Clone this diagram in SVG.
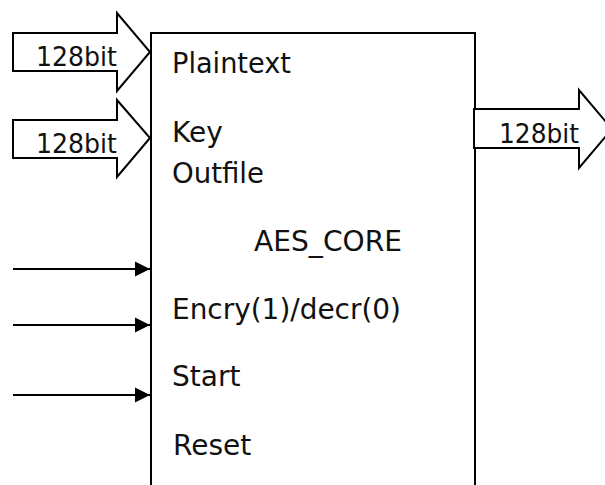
<svg xmlns="http://www.w3.org/2000/svg" width="605" height="485" viewBox="0 0 605 485">
<style>
.t{font-family:"DejaVu Sans","Liberation Sans",sans-serif;font-size:28px;fill:#111}
.s{font-family:"DejaVu Sans","Liberation Sans",sans-serif;font-size:27px;fill:#111}
.blk{fill:#fff;stroke:#000;stroke-width:2;stroke-linejoin:miter}
.ln{stroke:#000;stroke-width:2;fill:none}
</style>
<defs>
<marker id="ah" markerUnits="userSpaceOnUse" markerWidth="16" markerHeight="16" refX="15" refY="8" orient="auto">
<path d="M0,0.5 L15,8 L0,15.5 Z" fill="#000"/>
</marker>
</defs>
<rect width="605" height="485" fill="#fff"/>
<g id="core">
<path class="ln" d="M151,490 L151,33 L475,33 L475,490"/>
<text class="t" x="172" y="73" textLength="119" lengthAdjust="spacingAndGlyphs">Plaintext</text>
<text class="t" x="172" y="142">Key</text>
<text class="t" x="172" y="183" textLength="92" lengthAdjust="spacingAndGlyphs">Outfile</text>
<text class="t" x="254" y="251" textLength="148" lengthAdjust="spacingAndGlyphs">AES_CORE</text>
<text class="t" x="172" y="319" textLength="229" lengthAdjust="spacingAndGlyphs">Encry(1)/decr(0)</text>
<text class="t" x="172" y="386">Start</text>
<text class="t" x="173" y="455">Reset</text>
</g>
<g id="in-plaintext">
<polygon class="blk" points="13,33 117,33 117,13 150,52 117,91 117,71 13,71"/>
<text class="s" x="36" y="66" textLength="81" lengthAdjust="spacingAndGlyphs">128bit</text>
</g>
<g id="in-key">
<polygon class="blk" points="13,120 117,120 117,100 150,138 117,177 117,158 13,158"/>
<text class="s" x="36" y="153" textLength="81" lengthAdjust="spacingAndGlyphs">128bit</text>
</g>
<g id="out">
<polygon class="blk" points="474,109 579,109 579,90 612,129 579,168 579,148 474,148"/>
<text class="s" x="499" y="143" textLength="80" lengthAdjust="spacingAndGlyphs">128bit</text>
</g>
<g id="connectors">
<line class="ln" x1="13" y1="269" x2="150" y2="269" marker-end="url(#ah)"/>
<line class="ln" x1="13" y1="325" x2="150" y2="325" marker-end="url(#ah)"/>
<line class="ln" x1="13" y1="395" x2="150" y2="395" marker-end="url(#ah)"/>
</g>
</svg>
